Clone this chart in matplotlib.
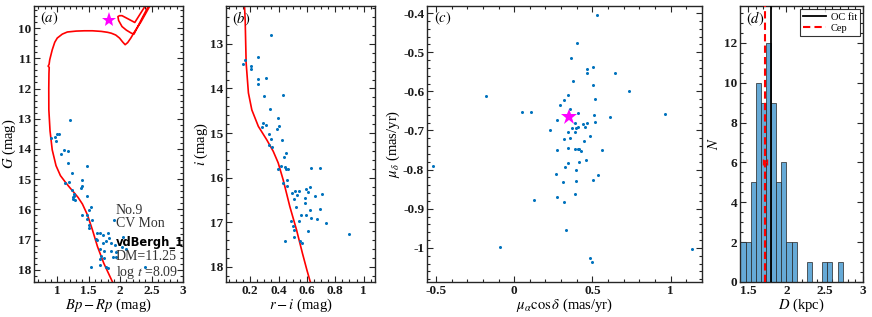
import matplotlib
matplotlib.use("Agg")
import matplotlib.pyplot as plt
from matplotlib.ticker import AutoMinorLocator, FuncFormatter, MultipleLocator
import numpy as np

plt.rcParams['font.family'] = ['Liberation Serif', 'DejaVu Serif']
plt.rcParams['mathtext.fontset'] = 'stix'
plt.rcParams['axes.unicode_minus'] = False

# ---------------- data ----------------
# panel (a): Gaia CMD
a_bprp = [1.204, 0.893, 0.96, 1.0, 1.03, 0.98, 1.06, 1.11, 1.17, 1.17, 1.47, 1.24, 1.13, 1.18, 1.39,
          1.40, 1.37, 1.23, 1.27, 1.25, 1.28, 1.47, 1.54, 1.51, 1.39, 1.47, 1.48, 1.55, 1.51, 1.50,
          1.91, 1.63, 1.68, 1.73, 1.80, 1.83, 1.61, 1.64, 1.72, 1.78, 1.86, 1.92, 2.05, 2.09, 1.68,
          1.75, 1.85, 1.69, 1.68, 1.75, 1.88, 1.93, 1.68, 1.54, 1.78, 1.80, 2.39, 1.93, 2.03, 1.26, 1.25]
a_g = [13.04, 13.64, 13.59, 13.51, 13.51, 13.75, 14.15, 14.03, 14.06, 14.47, 14.55, 14.79, 15.11, 15.08, 15.03,
       15.22, 15.29, 15.35, 15.50, 15.60, 15.68, 15.57, 15.91, 16.02, 16.19, 16.19, 16.30, 16.35, 16.51, 16.60,
       16.35, 16.77, 16.79, 16.85, 16.79, 16.93, 16.99, 17.01, 17.10, 17.06, 17.12, 17.17, 16.92, 17.32, 17.32,
       17.36, 17.36, 17.54, 17.65, 17.59, 17.56, 17.56, 17.84, 17.89, 17.89, 17.95, 17.89, 17.40, 17.25, 15.55, 15.65]
a_iso_x = [1.89, 1.74, 1.64, 1.56, 1.48, 1.40, 1.33, 1.27, 1.20, 1.13, 1.05, 0.98, 0.92, 0.885, 0.866, 0.865,
           0.868, 0.872, 0.855, 0.87, 0.88, 0.92, 0.96, 1.0, 1.08, 1.16, 1.30, 1.43, 1.56, 1.70, 1.80, 1.86,
           1.93, 1.99, 2.04, 2.08, 2.12, 2.17, 2.23, 2.33, 2.47, 2.53, 2.47, 2.447, 2.33, 2.22, 2.18, 2.10,
           2.03, 1.976, 1.965, 1.99, 2.03, 2.13, 2.233, 2.394, 2.44]
a_iso_y = [18.45, 17.78, 17.23, 16.68, 16.18, 15.82, 15.60, 15.45, 15.28, 15.10, 14.88, 14.55, 14.03, 13.4, 12.7,
           12.0, 11.5, 11.3, 11.26, 11.2, 11.05, 10.72, 10.47, 10.33, 10.2, 10.13, 10.10, 10.09, 10.09, 10.11,
           10.14, 10.17, 10.23, 10.33, 10.46, 10.55, 10.48, 10.33, 10.12, 9.8, 9.28, 9.05, 9.05, 9.285, 9.75,
           10.2, 10.17, 10.07, 9.95, 9.75, 9.62, 9.59, 9.59, 9.70, 9.815, 9.285, 9.1]
a_cep = (1.82, 9.72)
a_text = ["No.9", "CV Mon", "vdBergh_1", "DM=11.25", r"log $t$ =8.09"]

# panel (b): r-i CMD
b_ri = [0.345, 0.163, 0.153, 0.209, 0.205, 0.254, 0.254, 0.258, 0.31, 0.298, 0.429, 0.34, 0.396, 0.405, 0.389,
        0.291, 0.312, 0.282, 0.331, 0.349, 0.426, 0.335, 0.356, 0.456, 0.44, 0.398, 0.417, 0.445, 0.456, 0.47,
        0.627, 0.69, 0.433, 0.461, 0.461, 0.494, 0.517, 0.545, 0.533, 0.508, 0.594, 0.62, 0.606, 0.655, 0.706,
        0.59, 0.59, 0.52, 0.624, 0.69, 0.557, 0.596, 0.627, 0.672, 0.543, 0.489, 0.738, 0.503, 0.51, 0.606,
        0.447, 0.506, 0.55, 0.566, 0.90]
b_i = [12.80, 13.37, 13.45, 13.49, 13.56, 13.29, 13.79, 13.91, 13.76, 14.17, 14.15, 14.46, 14.66, 14.85, 14.91,
       14.78, 14.81, 14.87, 15.02, 15.13, 15.15, 15.27, 15.32, 15.45, 15.54, 15.81, 15.73, 15.75, 15.81, 15.80,
       15.78, 15.78, 16.11, 16.05, 16.18, 16.35, 16.29, 16.30, 16.39, 16.48, 16.25, 16.22, 16.33, 16.41, 16.36,
       16.46, 16.56, 16.65, 16.72, 16.70, 16.84, 16.84, 16.90, 16.92, 16.97, 16.98, 17.02, 17.08, 17.17, 17.19,
       17.41, 17.34, 17.41, 17.46, 17.27]
b_iso_x = [0.158, 0.165, 0.172, 0.188, 0.212, 0.258, 0.317, 0.363, 0.398, 0.433, 0.48, 0.527, 0.569, 0.60, 0.625, 0.64]
b_iso_y = [12.0, 12.45, 13.43, 14.10, 14.48, 14.85, 15.15, 15.41, 15.67, 16.05, 16.65, 17.17, 17.70, 18.07, 18.35, 18.5]

# panel (c): proper motions
c_pmra = [-0.521, -0.179, 0.049, 0.105, -0.089, 0.129, 0.230, 0.532, 0.403, 0.363, 0.464, 0.506, 0.464, 0.641,
          0.378, 0.502, 0.732, 0.346, 0.321, 0.517, 0.295, 0.359, 0.409, 0.274, 0.513, 0.612, 0.966, 0.386,
          0.439, 0.464, 0.517, 0.371, 0.395, 0.407, 0.454, 0.346, 0.390, 0.483, 0.321, 0.359, 0.447, 0.274,
          0.346, 0.388, 0.405, 0.414, 0.430, 0.563, 0.411, 0.458, 0.344, 0.327, 0.392, 0.266, 0.534, 0.504,
          0.310, 0.392, 0.386, 0.272, 0.316, 0.331, 0.485, 0.500, 1.135]
c_pmdec = [-0.790, -0.613, -0.654, -0.654, -0.998, -0.877, -0.700, -0.404, -0.477, -0.515, -0.542, -0.538,
           -0.553, -0.553, -0.574, -0.584, -0.598, -0.609, -0.621, -0.619, -0.634, -0.644, -0.655, -0.674,
           -0.661, -0.666, -0.657, -0.681, -0.684, -0.682, -0.679, -0.694, -0.693, -0.690, -0.691, -0.704,
           -0.703, -0.715, -0.723, -0.718, -0.728, -0.750, -0.744, -0.748, -0.746, -0.748, -0.752, -0.750,
           -0.780, -0.776, -0.784, -0.792, -0.800, -0.811, -0.813, -0.826, -0.832, -0.830, -0.861, -0.871,
           -0.882, -0.953, -1.026, -1.035, -1.002]
c_cep = (0.352, -0.666)

# panel (d): distance histogram
d_bin_start = 1.401
d_bin_width = 0.0667
d_counts = [2, 2, 5, 10, 9, 12, 9, 5, 6, 2, 2, 0, 0, 1, 0, 0, 1, 1, 0, 1]
d_oc_fit = 1.794
d_cep = 1.724
d_cep_err = 0.025
d_cep_ybar = 6

# ---------------- style ----------------
BLUE = '#0072BD'
HBLUE = '#66AAD7'
FRAME = '#262626'

fig = plt.figure(figsize=(8.72, 3.17), dpi=100)
H = 317.0
W = 872.0
bot = 35 / H
hgt = 276 / H
ax_a = fig.add_axes([34 / W, bot, 149 / W, hgt])
ax_b = fig.add_axes([226 / W, bot, 149 / W, hgt])
ax_c = fig.add_axes([427 / W, bot, 275 / W, hgt])
ax_d = fig.add_axes([740 / W, bot, 123 / W, hgt])

fmt = FuncFormatter(lambda v, p: ('%g' % round(v, 6)))


def style(ax, nminor_x=5, nminor_y=5):
    for s in ax.spines.values():
        s.set_linewidth(1.0)
        s.set_color(FRAME)
    ax.tick_params(which='both', direction='in', top=True, right=True, colors=FRAME,
                   labelcolor='#1a1a1a', labelsize=9.5, width=0.8, pad=2)
    ax.tick_params(which='major', length=4)
    ax.tick_params(which='minor', length=2)
    ax.xaxis.set_minor_locator(AutoMinorLocator(nminor_x))
    ax.yaxis.set_minor_locator(AutoMinorLocator(nminor_y))
    ax.xaxis.set_major_formatter(fmt)
    ax.yaxis.set_major_formatter(fmt)


def bold_ticks(ax):
    for lab in ax.get_xticklabels() + ax.get_yticklabels():
        lab.set_fontweight('bold')


# ---- (a)
ax = ax_a
ax.plot(a_iso_x, a_iso_y, color='red', lw=1.2, zorder=2)
ax.plot(a_bprp, a_g, 'o', color=BLUE, ms=2.2, mew=0, zorder=3)
ax.plot([a_cep[0]], [a_cep[1]], marker='*', color='magenta', ms=11, mew=0, zorder=4)
ax.set_xlim(0.63, 3.0)
ax.set_ylim(18.4, 9.27)
ax.xaxis.set_major_locator(MultipleLocator(0.5))
ax.yaxis.set_major_locator(MultipleLocator(1))
style(ax)
ax.set_xlabel(r'$Bp-Rp$ (mag)', fontsize=10.5, labelpad=0)
ax.set_ylabel(r'$G$ (mag)', fontsize=10.5, labelpad=0)
ax.text(0.04, 0.955, r'$(a)$', transform=ax.transAxes, fontsize=10.5, va='center', ha='left')
ty = [16.02, 16.47, 17.08, 17.57, 18.07]
for t, y in zip(a_text, ty):
    if t.startswith('vdB'):
        ax.text(1.93, y, t, fontsize=8.3, fontweight='bold', family='DejaVu Sans', va='center', ha='left')
    else:
        ax.text(1.93, y, t, fontsize=10, va='center', ha='left', color='#333333')
bold_ticks(ax)

# ---- (b)
ax = ax_b
ax.plot(b_iso_x, b_iso_y, color='red', lw=1.2, zorder=2)
ax.plot(b_ri, b_i, 'o', color=BLUE, ms=2.2, mew=0, zorder=3)
ax.set_xlim(0.03, 1.08)
ax.set_ylim(18.34, 12.15)
ax.xaxis.set_major_locator(MultipleLocator(0.2))
ax.yaxis.set_major_locator(MultipleLocator(1))
style(ax, 4, 5)
ax.set_xlabel(r'$r-i$ (mag)', fontsize=10.5, labelpad=0)
ax.set_ylabel(r'$i$ (mag)', fontsize=10.5, labelpad=0)
ax.text(0.04, 0.955, r'$(b)$', transform=ax.transAxes, fontsize=10.5, va='center', ha='left')
bold_ticks(ax)

# ---- (c)
ax = ax_c
ax.plot(c_pmra, c_pmdec, 'o', color=BLUE, ms=2.2, mew=0, zorder=3)
ax.plot([c_cep[0]], [c_cep[1]], marker='*', color='magenta', ms=12, mew=0, zorder=4)
ax.set_xlim(-0.557, 1.2)
ax.set_ylim(-1.087, -0.382)
ax.xaxis.set_major_locator(MultipleLocator(0.5))
ax.yaxis.set_major_locator(MultipleLocator(0.1))
style(ax, 5, 5)
ax.set_xlabel(r'$\mu_\alpha\cos\delta$ (mas/yr)', fontsize=10.5, labelpad=0)
ax.set_ylabel(r'$\mu_\delta$ (mas/yr)', fontsize=10.5, labelpad=1)
ax.text(0.025, 0.955, r'$(c)$', transform=ax.transAxes, fontsize=10.5, va='center', ha='left')
bold_ticks(ax)

# ---- (d)
ax = ax_d
edges = d_bin_start + d_bin_width * np.arange(len(d_counts) + 1)
ax.bar(edges[:-1], d_counts, width=d_bin_width, align='edge', color=HBLUE,
       edgecolor=(0.15, 0.15, 0.15, 0.85), linewidth=0.6, zorder=2)
ax.axvline(d_oc_fit, color='black', lw=1.3, label='OC fit', zorder=3)
ax.axvline(d_cep, color='red', lw=1.5, ls=(0, (3.5, 2)), label='Cep', zorder=3)
ax.errorbar([d_cep], [d_cep_ybar], xerr=[d_cep_err], color='red', lw=1.0, capsize=2, capthick=1.0, zorder=4)
ax.set_xlim(1.395, 3.0)
ax.set_ylim(0, 13.85)
ax.xaxis.set_major_locator(MultipleLocator(0.5))
ax.yaxis.set_major_locator(MultipleLocator(2))
style(ax, 5, 4)
ax.set_xlabel(r'$D$ (kpc)', fontsize=10.5, labelpad=0)
ax.set_ylabel(r'$N$', fontsize=10.5, labelpad=2)
ax.text(0.05, 0.955, r'$(d)$', transform=ax.transAxes, fontsize=10.5, va='center', ha='left')
leg = ax.legend(loc='upper right', fontsize=7.5, frameon=True, fancybox=False, edgecolor='black',
                handlelength=2.2, borderpad=0.3, labelspacing=0.2, handletextpad=0.4,
                borderaxespad=0.3)
leg.get_frame().set_linewidth(0.8)
bold_ticks(ax)

fig.savefig('out.png', dpi=100)
